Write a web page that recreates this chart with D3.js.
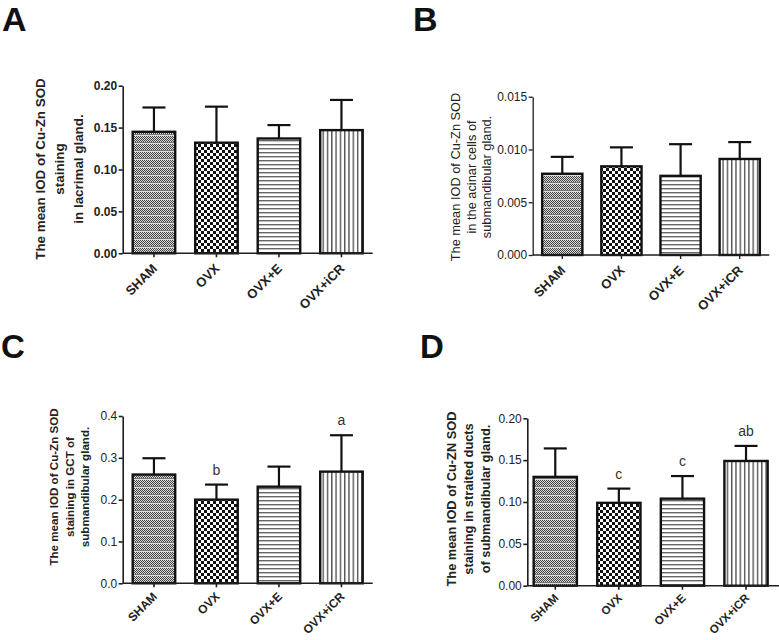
<!DOCTYPE html>
<html><head><meta charset="utf-8">
<script src="https://cdn.jsdelivr.net/npm/d3@7"></script>
<style>body{margin:0;background:#fff}svg{display:block}</style>
</head><body>
<svg id="chart" width="779" height="640"></svg>
<script>
// ---- data ----
const categories = ["SHAM", "OVX", "OVX+E", "OVX+iCR"];
const meanA = [0.145, 0.132, 0.137, 0.147];
const errA  = [0.029, 0.043, 0.016, 0.036];
const meanB = [0.0077, 0.0084, 0.0075, 0.0091];
const errB  = [0.0016, 0.0018, 0.0030, 0.0016];
const meanC = [0.260, 0.200, 0.231, 0.267];
const errC  = [0.039, 0.036, 0.048, 0.087];
const meanD = [0.130, 0.099, 0.104, 0.149];
const errD  = [0.034, 0.017, 0.027, 0.018];
const lettersC = ["", "b", "", "a"];
const lettersD = ["", "c", "c", "ab"];
const ticksA = [0, 0.05, 0.10, 0.15, 0.20];
const ticksB = [0, 0.005, 0.010, 0.015];
const ticksC = [0, 0.1, 0.2, 0.3, 0.4];
const ticksD = [0, 0.05, 0.10, 0.15, 0.20];
const titleA = ["The mean IOD of Cu-Zn SOD", "staining", "in lacrimal gland."];
const titleB = ["The mean IOD of Cu-Zn SOD", "in the acinar cells of", "submandibular gland."];
const titleC = ["The mean IOD of  Cu-Zn SOD", "staining in GCT of", "submandibular gland."];
const titleD = ["The mean IOD of Cu-ZN SOD", "staining in straited ducts", "of submandibular gland."];

// ---- layout ----
const panels = [
  {label:"A", lx:2, ly:31, lsize:34, left:122.7, right:372.7, axisEnd:372.7, po:0.16, top:85.7, bottom:253.3,
   max:0.2, ticks:ticksA, fmt:".2f", means:meanA, errs:errA, letters:null, title:titleA,
   tx:[45,64,83], tsize:13.4, tbold:true, tcy:169, tickBold:true, axisW:1.6, xsize:13, xdy:16},
  {label:"B", lx:413, ly:31, lsize:34, left:532.7, right:769.3, axisEnd:769.3, po:0.16, top:96.7, bottom:255,
   max:0.015, ticks:ticksB, fmt:".3f", means:meanB, errs:errB, letters:null, title:titleB,
   tx:[459.5,475.5,491], tsize:12.8, tbold:false, tcy:177, tickBold:false, axisW:1.3, xsize:13, xdy:16},
  {label:"C", lx:1, ly:358, lsize:33, left:122.7, right:372.7, axisEnd:372.7, po:0.16, top:416, bottom:583.3,
   max:0.4, ticks:ticksC, fmt:".1f", means:meanC, errs:errC, letters:lettersC, title:titleC,
   tx:[57.5,73.5,89], tsize:11.6, tbold:true, tcy:487, tickBold:false, axisW:1.6, xsize:12, xdy:14},
  {label:"D", lx:420, ly:358, lsize:33, left:527.3, right:774, axisEnd:779, po:0.1, top:418.3, bottom:585.7,
   max:0.2, ticks:ticksD, fmt:".2f", means:meanD, errs:errD, letters:lettersD, title:titleD,
   tx:[456,473,490], tsize:12.8, tbold:true, tcy:499, tickBold:false, axisW:1.6, xsize:11.5, xdy:13}
];

const svg = d3.select("#chart");
const font = "Liberation Sans, Arial, Helvetica, sans-serif";
const ink = "#1e1e1e";

// ---- patterns ----
const defs = svg.append("defs");
// SHAM: fine stipple with light banding
const p0 = defs.append("pattern").attr("id","pat0").attr("patternUnits","userSpaceOnUse").attr("width",2).attr("height",8);
p0.append("rect").attr("width",2).attr("height",8).attr("fill","#dcdcdc");
[0,2,4].forEach(y=>{
  p0.append("rect").attr("x",0).attr("y",y).attr("width",1).attr("height",1).attr("fill","#444");
  p0.append("rect").attr("x",1).attr("y",y+1).attr("width",1).attr("height",1).attr("fill","#444");
});
p0.append("rect").attr("x",0).attr("y",6).attr("width",2).attr("height",1).attr("fill","#777");
// OVX: checkerboard
const p1 = defs.append("pattern").attr("id","pat1").attr("patternUnits","userSpaceOnUse").attr("width",6).attr("height",6);
p1.append("rect").attr("width",6).attr("height",6).attr("fill","#fff");
p1.append("rect").attr("width",3).attr("height",3).attr("fill","#111");
p1.append("rect").attr("x",3).attr("y",3).attr("width",3).attr("height",3).attr("fill","#111");
// OVX+E: horizontal lines
const p2 = defs.append("pattern").attr("id","pat2").attr("patternUnits","userSpaceOnUse").attr("width",4).attr("height",4);
p2.append("rect").attr("width",4).attr("height",4).attr("fill","#fff");
p2.append("rect").attr("y",0).attr("width",4).attr("height",1.4).attr("fill","#666");
// OVX+iCR: vertical lines
const p3 = defs.append("pattern").attr("id","pat3").attr("patternUnits","userSpaceOnUse").attr("width",4.3).attr("height",4);
p3.append("rect").attr("width",4.3).attr("height",4).attr("fill","#fff");
p3.append("rect").attr("x",0).attr("width",1.4).attr("height",4).attr("fill","#555");

panels.forEach(P => {
  const g = svg.append("g");
  // panel letter
  g.append("text").attr("x",P.lx).attr("y",P.ly).text(P.label)
    .attr("font-family",font).attr("font-weight","bold").attr("font-size",P.lsize).attr("fill","#111");

  const x = d3.scaleBand().domain(categories).range([P.left, P.right]).paddingInner(0.32).paddingOuter(P.po);
  const y = d3.scaleLinear().domain([0, P.max]).range([P.bottom, P.top]);

  // bars
  g.selectAll("rect.bar").data(categories).enter().append("rect")
    .attr("x", d => x(d)).attr("width", x.bandwidth())
    .attr("y", (d,i) => y(P.means[i])).attr("height", (d,i) => P.bottom - y(P.means[i]))
    .attr("fill", (d,i) => `url(#pat${i})`).attr("stroke","#111").attr("stroke-width",2.4);

  // error bars (upper only)
  categories.forEach((c,i) => {
    const cx = x(c) + x.bandwidth()/2;
    const yt = y(P.means[i] + P.errs[i]);
    g.append("line").attr("x1",cx).attr("x2",cx).attr("y1",y(P.means[i])).attr("y2",yt)
      .attr("stroke","#111").attr("stroke-width",2.2);
    g.append("line").attr("x1",cx-11.5).attr("x2",cx+11.5).attr("y1",yt).attr("y2",yt)
      .attr("stroke","#111").attr("stroke-width",2.2);
    if (P.letters && P.letters[i]) {
      g.append("text").attr("x",cx).attr("y",yt-10).attr("text-anchor","middle")
        .attr("font-family",font).attr("font-size",14).attr("fill","#333").text(P.letters[i]);
    }
  });

  // y axis
  const ya = g.append("g").attr("transform",`translate(${P.left},0)`)
    .call(d3.axisLeft(y).tickValues(P.ticks).tickFormat(d3.format(P.fmt)).tickSize(4).tickPadding(1.5).tickSizeOuter(0));
  ya.select(".domain").attr("stroke",ink).attr("stroke-width",P.axisW);
  ya.selectAll(".tick line").attr("stroke",ink).attr("stroke-width",P.axisW);
  ya.selectAll(".tick text").attr("font-family",font).attr("font-size",12)
    .attr("font-weight",P.tickBold ? "bold" : "normal").attr("fill","#222");

  // x axis
  const xa = g.append("g").attr("transform",`translate(0,${P.bottom})`)
    .call(d3.axisBottom(x).tickSize(4).tickSizeOuter(0));
  xa.select(".domain").remove();
  g.append("line").attr("x1",P.left).attr("x2",P.axisEnd).attr("y1",P.bottom).attr("y2",P.bottom)
    .attr("stroke",ink).attr("stroke-width",P.axisW);
  xa.selectAll(".tick line").attr("stroke",ink).attr("stroke-width",P.axisW);
  xa.selectAll(".tick text")
    .attr("font-family",font).attr("font-size",P.xsize).attr("font-weight","bold").attr("fill","#222")
    .attr("text-anchor","end").attr("dy",null).attr("y",null)
    .attr("transform",`translate(4,${P.xdy}) rotate(-45)`);

  // y title (rotated lines)
  P.title.forEach((line,k) => {
    g.append("text").attr("font-family",font).attr("font-size",P.tsize)
      .attr("font-weight",P.tbold ? "bold" : "normal").attr("fill","#222").attr("text-anchor","middle")
      .attr("transform",`translate(${P.tx[k]},${P.tcy}) rotate(-90)`).text(line);
  });
});
</script>
</body></html>
